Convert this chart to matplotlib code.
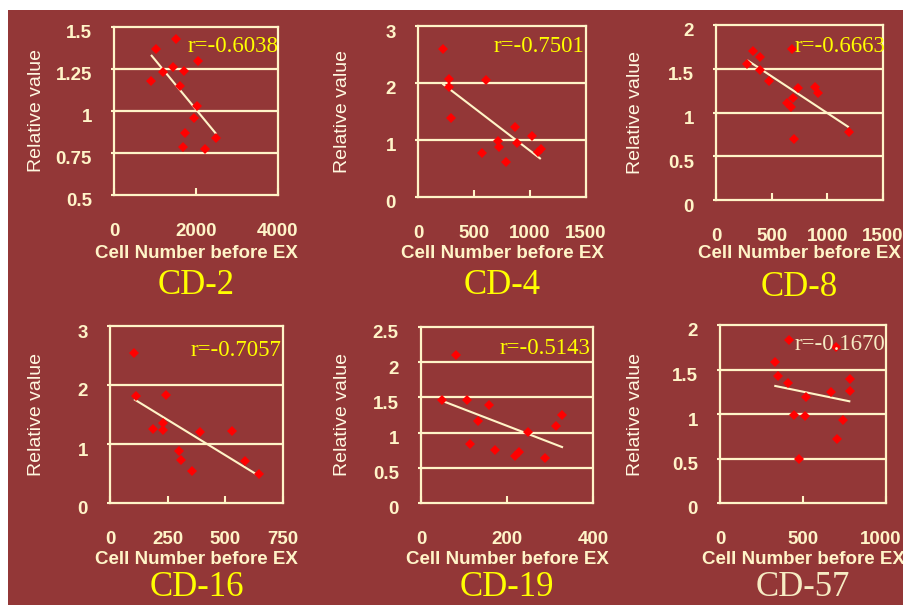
import numpy as np
import matplotlib
matplotlib.use("Agg")
import matplotlib.pyplot as plt
from matplotlib.patches import Rectangle
from matplotlib.transforms import ScaledTranslation

# ---------------- data ----------------
titles = ["CD-2", "CD-4", "CD-8", "CD-16", "CD-19", "CD-57"]
r_labels = ["r=-0.6038", "r=-0.7501", "r=-0.6663", "r=-0.7057", "r=-0.5143", "r=-0.1670"]

cd2_x = [1017, 1520, 2049, 1431, 1187, 1707, 902, 1610, 2024, 1943, 1732, 2495, 1683, 2227]
cd2_y = [1.367, 1.429, 1.30, 1.264, 1.23, 1.238, 1.18, 1.149, 1.030, 0.956, 0.871, 0.837, 0.784, 0.774]
cd2_fit_x = [919, 2480]
cd2_fit_y = [1.329, 0.867]

cd4_x = [220, 280, 280, 610, 298, 863, 1018, 714, 723, 887, 571, 783, 1098, 1069]
cd4_y = [2.596, 2.075, 1.924, 2.047, 1.38, 1.228, 1.076, 0.982, 0.877, 0.953, 0.766, 0.608, 0.848, 0.795]
cd4_fit_x = [226, 1089]
cd4_fit_y = [1.977, 0.678]

cd8_x = [330, 398, 281, 395, 476, 680, 739, 692, 640, 671, 892, 916, 700, 1191]
cd8_y = [1.706, 1.634, 1.558, 1.482, 1.356, 1.722, 1.284, 1.169, 1.112, 1.066, 1.288, 1.223, 0.693, 0.777]
cd8_fit_x = [287, 1185]
cd8_fit_y = [1.592, 0.838]

cd16_x = [105, 111, 244, 228, 186, 230, 389, 530, 299, 309, 357, 587, 646]
cd16_y = [2.542, 1.814, 1.831, 1.350, 1.254, 1.232, 1.203, 1.220, 0.886, 0.734, 0.542, 0.712, 0.497]
cd16_fit_x = [108, 642]
cd16_fit_y = [1.75, 0.469]

cd19_x = [81, 50, 108, 158, 133, 113, 171, 250, 229, 219, 289, 315, 328]
cd19_y = [2.098, 1.467, 1.467, 1.387, 1.169, 0.838, 0.748, 1.008, 0.729, 0.668, 0.644, 1.089, 1.246]
cd19_fit_x = [50, 328]
cd19_fit_y = [1.449, 0.795]

cd57_x = [414, 701, 329, 348, 408, 781, 781, 669, 518, 448, 512, 741, 707, 474]
cd57_y = [1.831, 1.749, 1.588, 1.424, 1.352, 1.397, 1.262, 1.244, 1.195, 0.989, 0.978, 0.929, 0.719, 0.498]
cd57_fit_x = [333, 779]
cd57_fit_y = [1.315, 1.143]

x_ticks = [[0, 2000, 4000], [0, 500, 1000, 1500], [0, 500, 1000, 1500],
           [0, 250, 500, 750], [0, 200, 400], [0, 500, 1000]]
y_ticks = [[0.5, 0.75, 1, 1.25, 1.5], [0, 1, 2, 3], [0, 0.5, 1, 1.5, 2],
           [0, 1, 2, 3], [0, 0.5, 1, 1.5, 2, 2.5], [0, 0.5, 1, 1.5, 2]]
y_tick_labels = [["0.5", "0.75", "1", "1.25", "1.5"], ["0", "1", "2", "3"],
                 ["0", "0.5", "1", "1.5", "2"], ["0", "1", "2", "3"],
                 ["0", "0.5", "1", "1.5", "2", "2.5"], ["0", "0.5", "1", "1.5", "2"]]
x_tick_labels = [["0", "2000", "4000"], ["0", "500", "1000", "1500"], ["0", "500", "1000", "1500"],
                 ["0", "250", "500", "750"], ["0", "200", "400"], ["0", "500", "1000"]]

xs = [cd2_x, cd4_x, cd8_x, cd16_x, cd19_x, cd57_x]
ys = [cd2_y, cd4_y, cd8_y, cd16_y, cd19_y, cd57_y]
fxs = [cd2_fit_x, cd4_fit_x, cd8_fit_x, cd16_fit_x, cd19_fit_x, cd57_fit_x]
fys = [cd2_fit_y, cd4_fit_y, cd8_fit_y, cd16_fit_y, cd19_fit_y, cd57_fit_y]

# ---------------- layout / style ----------------
W, H = 904, 605
BG = "#933737"
CREAM = "#FFF4C8"
YELLOW = "#FFFF00"
title_colors = [YELLOW] * 5 + ["#F6ECC4"]

# axes pixel boxes: left, top, right, bottom
boxes = [(114, 27, 278, 195), (418, 26, 586, 197), (716, 25, 883, 200),
         (110, 326, 283, 503), (421, 327, 593, 503), (720, 325, 886, 503)]
r_pos = [(279, 46), (584, 47), (885, 47), (281, 351), (590, 349), (885, 344)]
ylabel_x = [37, 343, 636, 37, 343, 636]
xlabel_y = [253, 253, 253, 559, 559, 559]
title_y = [286, 286, 287, 588, 588, 588]

fig = plt.figure(figsize=(W / 100, H / 100), dpi=100)
fig.patch.set_facecolor("white")
fig.patches.append(Rectangle((8 / W, 0), 1 - 8 / W, 1 - 10 / H, transform=fig.transFigure,
                             facecolor=BG, edgecolor="none", zorder=-10))

sans = "Liberation Sans"
serif = "Liberation Serif"


def fx(px):
    return px / W


def fy(py):
    return 1 - py / H


for i in range(6):
    l, t, r, b = boxes[i]
    ax = fig.add_axes([fx(l), fy(b), (r - l) / W, (b - t) / H])
    ax.set_facecolor("none")
    yt = y_ticks[i]
    xt = x_ticks[i]
    ax.set_xlim(xt[0], xt[-1])
    ax.set_ylim(yt[0], yt[-1])
    for sp in ax.spines.values():
        sp.set_color(CREAM)
        sp.set_linewidth(1.6)
    for v in yt[1:-1]:
        ax.axhline(v, color=CREAM, lw=1.6, zorder=1)
    ax.plot(fxs[i], fys[i], color=CREAM, lw=1.5, zorder=2)
    ax.plot(xs[i], ys[i], linestyle="none", marker="D", markersize=5.2,
            color="#FF0000", markeredgewidth=0, zorder=3)
    ax.set_xticks(xt)
    ax.set_xticklabels(x_tick_labels[i], fontfamily=sans, fontweight="bold",
                       fontsize=13.5, color=CREAM)
    ax.set_yticks(yt)
    ax.set_yticklabels(y_tick_labels[i], fontfamily=sans, fontweight="bold",
                       fontsize=13.5, color=CREAM)
    ax.tick_params(axis="x", direction="in", length=5, width=1.5, color=CREAM, pad=20)
    ax.tick_params(axis="y", direction="out", length=2, width=1.5, color=CREAM, pad=14)
    off = ScaledTranslation(0, -5 / 100, fig.dpi_scale_trans)
    for lab in ax.get_yticklabels():
        lab.set_transform(lab.get_transform() + off)
    if i == 5:
        last = ax.get_xticklabels()[-1]
        last.set_transform(last.get_transform() + ScaledTranslation(-5 / 100, 0, fig.dpi_scale_trans))

    cx = (l + r) / 2
    fig.text(fx(cx), fy(xlabel_y[i]), "Cell Number before EX", ha="center", va="center",
             fontfamily=sans, fontweight="bold", fontsize=13.5, color=CREAM)
    fig.text(fx(cx), fy(title_y[i]), titles[i], ha="center", va="center",
             fontfamily=serif, fontsize=25, color=title_colors[i])
    fig.text(fx(ylabel_x[i]), fy((t + b) / 2), "Relative value", ha="center", va="center",
             rotation=90, fontfamily=sans, fontsize=14, color="#FFF8E0")
    fig.text(fx(r_pos[i][0]), fy(r_pos[i][1]), r_labels[i], ha="right", va="center",
             fontfamily=serif, fontsize=16.5, color=title_colors[i])

fig.savefig("out.png", dpi=100, facecolor=fig.get_facecolor())
